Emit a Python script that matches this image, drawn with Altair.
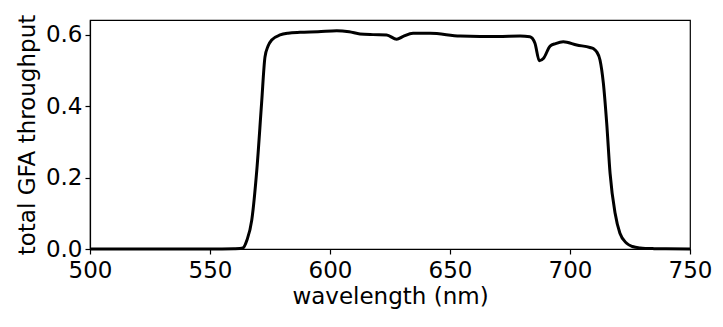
import altair as alt
import pandas as pd

wavelength = [500, 520, 540, 555, 560, 562.5, 563.75, 565.4, 567.4, 569.5, 571.5,
              572.9, 574.2, 575.7, 579.2, 582.5, 587.5, 595, 602.8, 608, 612.5,
              617.9, 623.6, 627.8, 630.5, 634.6, 641.7, 654.2, 662.5, 670, 679.2,
              683.3, 685.4, 687.2, 689, 691.7, 694, 697.2, 702.8, 708.3, 709.7,
              711.1, 712.5, 713.9, 715.3, 716.7, 718.8, 720.8, 723.6, 726, 729.2,
              735, 740, 750]
throughput = [0, 0, 0, 0.0003, 0.0008, 0.0015, 0.003, 0.025, 0.081, 0.221, 0.409,
              0.538, 0.569, 0.586, 0.600, 0.605, 0.6075, 0.609, 0.612, 0.609, 0.603,
              0.601, 0.600, 0.588, 0.596, 0.605, 0.605, 0.597, 0.596, 0.596, 0.597,
              0.595, 0.577, 0.528, 0.535, 0.569, 0.576, 0.581, 0.572, 0.565, 0.562,
              0.553, 0.530, 0.465, 0.352, 0.212, 0.100, 0.044, 0.016, 0.007, 0.003,
              0.001, 0.0005, 0]

df = pd.DataFrame({"wavelength": wavelength, "throughput": throughput})

FONT = "DejaVu Sans"

chart = alt.Chart(df).mark_line(color="black", strokeWidth=3, interpolate="monotone").encode(
    x=alt.X("wavelength:Q",
            scale=alt.Scale(domain=[500, 750], nice=False, zero=False),
            axis=alt.Axis(title="wavelength (nm)", values=[500, 550, 600, 650, 700, 750],
                          format="d", grid=False, labelFlush=False)),
    y=alt.Y("throughput:Q",
            scale=alt.Scale(domain=[0, 0.642], nice=False),
            axis=alt.Axis(title="total GFA throughput", values=[0, 0.2, 0.4, 0.6],
                          format=".1f", grid=False, labelFlush=False)),
).properties(
    width=600, height=229,
    autosize=alt.AutoSizeParams(type="none"),
    padding={"left": 82, "top": 12, "right": 25, "bottom": 70},
).configure_view(
    stroke="black", strokeWidth=1.2
).configure_axis(
    domainColor="black", domainWidth=1.2,
    tickColor="black", tickSize=5, tickWidth=1.2,
    labelFont=FONT, labelFontSize=23, labelColor="black",
    titleFont=FONT, titleFontSize=23, titleColor="black", titleFontWeight="normal",
).configure_axisX(labelPadding=5, titlePadding=3).configure_axisY(labelPadding=3, titlePadding=6)

chart.save("out.html", embed_options={"renderer": "svg", "actions": False})
